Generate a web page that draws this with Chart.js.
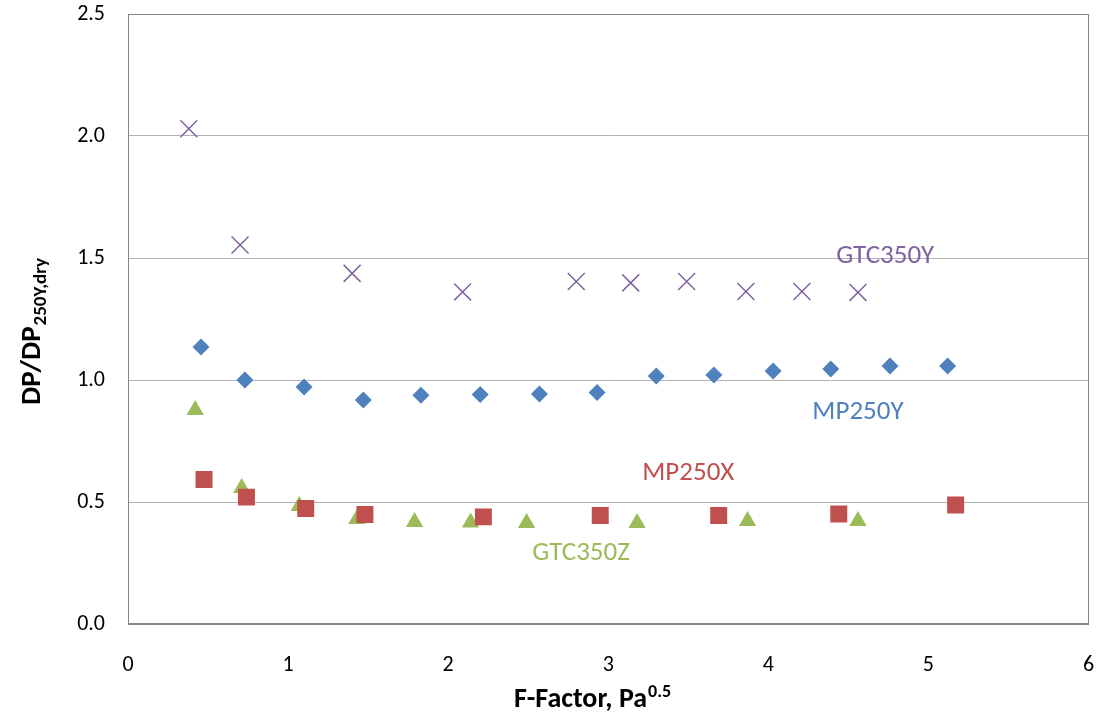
<!DOCTYPE html>
<html>
<head>
<meta charset="utf-8">
<script src="https://cdn.jsdelivr.net/npm/chart.js@4.4.0/dist/chart.umd.min.js"></script>
<style>
    html, body { margin: 0; padding: 0; background: #ffffff; }
    #wrap { width: 1102px; height: 719px; position: relative; }
</style>
</head>
<body>
<div id="wrap"><canvas id="chart"></canvas></div>
<script>
// Données
const gtc350yX = [0.38, 0.70, 1.40, 2.09, 2.80, 3.14, 3.49, 3.86, 4.21, 4.56];
const gtc350yY = [2.03, 1.553, 1.437, 1.361, 1.404, 1.398, 1.404, 1.363, 1.363, 1.359];

const mp250yX = [0.456, 0.73, 1.10, 1.47, 1.83, 2.20, 2.57, 2.93, 3.30, 3.66, 4.03, 4.39, 4.76, 5.12];
const mp250yY = [1.135, 1.0, 0.971, 0.918, 0.937, 0.941, 0.943, 0.949, 1.016, 1.020, 1.037, 1.045, 1.057, 1.057];

const mp250xX = [0.475, 0.74, 1.11, 1.48, 2.22, 2.95, 3.69, 4.44, 5.17];
const mp250xY = [0.592, 0.520, 0.473, 0.449, 0.439, 0.445, 0.445, 0.451, 0.488];

const gtc350zX = [0.42, 0.71, 1.07, 1.43, 1.79, 2.14, 2.49, 3.18, 3.87, 4.56];
const gtc350zY = [0.877, 0.557, 0.484, 0.430, 0.418, 0.416, 0.414, 0.414, 0.422, 0.422];

const xTicks = [0, 1, 2, 3, 4, 5, 6];
const yTicks = [0.0, 0.5, 1.0, 1.5, 2.0, 2.5];

const FONT = "Carlito, Calibri, Lato, sans-serif";

function toPoints(xs, ys) {
    return xs.map((x, i) => ({ x: x, y: ys[i] }));
}

// Étiquettes des séries, placées dans l'espace des données
const seriesLabels = [
    { text: 'GTC350Y', x: 4.73, y: 1.508, color: '#8064A2' },
    { text: 'MP250Y', x: 4.56, y: 0.869, color: '#4F81BD' },
    { text: 'MP250X', x: 3.50, y: 0.619, color: '#C0504D' },
    { text: 'GTC350Z', x: 2.83, y: 0.291, color: '#9BBB59' }
];

const labelsPlugin = {
    id: 'seriesLabels',
    afterDatasetsDraw(chart) {
        const ctx = chart.ctx;
        const xs = chart.scales.x;
        const ys = chart.scales.y;
        ctx.save();
        ctx.font = '27px ' + FONT;
        ctx.textAlign = 'center';
        ctx.textBaseline = 'middle';
        seriesLabels.forEach(l => {
            ctx.fillStyle = l.color;
            ctx.fillText(l.text, xs.getPixelForValue(l.x), ys.getPixelForValue(l.y));
        });
        ctx.restore();
    }
};

// Titres des axes avec indice / exposant
const axisTitlesPlugin = {
    id: 'axisTitles',
    afterDraw(chart) {
        const ctx = chart.ctx;
        const area = chart.chartArea;
        ctx.save();
        ctx.fillStyle = '#000000';
        ctx.textBaseline = 'alphabetic';

        // Titre X
        const main = 'F-Factor, Pa';
        const sup = '0.5';
        ctx.font = 'bold 28px ' + FONT;
        const wMain = ctx.measureText(main).width;
        ctx.font = 'bold 18px ' + FONT;
        const wSup = ctx.measureText(sup).width;
        const x0 = 592 - (wMain + wSup) / 2;
        ctx.font = 'bold 28px ' + FONT;
        ctx.textAlign = 'left';
        ctx.fillText(main, x0, 707);
        ctx.font = 'bold 18px ' + FONT;
        ctx.fillText(sup, x0 + wMain + 1, 697);

        // Titre Y (pivoté)
        const yMain = 'DP/DP';
        const ySub = '250Y,dry';
        ctx.translate(40, 332);
        ctx.rotate(-Math.PI / 2);
        ctx.font = 'bold 29px ' + FONT;
        const wy1 = ctx.measureText(yMain).width;
        ctx.font = 'bold 19px ' + FONT;
        const wy2 = ctx.measureText(ySub).width;
        const start = -(wy1 + wy2) / 2;
        ctx.font = 'bold 29px ' + FONT;
        ctx.fillText(yMain, start, 0);
        ctx.font = 'bold 19px ' + FONT;
        ctx.fillText(ySub, start + wy1 + 1, 6);
        ctx.restore();
    }
};

const config = {
    type: 'scatter',
    data: {
        datasets: [
            {
                label: 'GTC350Y',
                data: toPoints(gtc350yX, gtc350yY),
                pointStyle: 'crossRot',
                pointRadius: 12,
                borderColor: '#8064A2',
                borderWidth: 1.5,
                backgroundColor: '#8064A2'
            },
            {
                label: 'MP250Y',
                data: toPoints(mp250yX, mp250yY),
                pointStyle: 'rectRot',
                pointRadius: 8.5,
                borderWidth: 0,
                backgroundColor: '#4F81BD'
            },
            {
                label: 'MP250X',
                data: toPoints(mp250xX, mp250xY),
                pointStyle: 'rect',
                pointRadius: 12,
                borderWidth: 0,
                backgroundColor: '#C0504D'
            },
            {
                label: 'GTC350Z',
                data: toPoints(gtc350zX, gtc350zY),
                pointStyle: 'triangle',
                pointRadius: 10,
                borderWidth: 0,
                backgroundColor: '#9BBB59'
            }
        ]
    },
    options: {
        responsive: true,
        maintainAspectRatio: false,
        animation: false,
        layout: {
            padding: { left: 0, top: 14, right: 13, bottom: 0 }
        },
        plugins: {
            legend: { display: false },
            tooltip: { enabled: false }
        },
        scales: {
            x: {
                type: 'linear',
                min: 0,
                max: 6,
                afterBuildTicks(scale) {
                    scale.ticks = xTicks.map(v => ({ value: v }));
                },
                afterFit(scale) {
                    scale.height = 95;
                    scale.paddingLeft = 0;
                    scale.paddingRight = 0;
                },
                grid: { display: false, drawTicks: false },
                border: { display: true, color: '#868686', width: 1 },
                ticks: {
                    padding: 28,
                    color: '#000000',
                    font: { family: FONT, size: 22 },
                    maxRotation: 0,
                    callback: v => String(v)
                }
            },
            y: {
                type: 'linear',
                min: 0,
                max: 2.5,
                afterBuildTicks(scale) {
                    scale.ticks = yTicks.map(v => ({ value: v }));
                },
                afterFit(scale) {
                    scale.width = 128;
                    scale.paddingTop = 0;
                    scale.paddingBottom = 0;
                },
                grid: { color: '#B3B3B3', lineWidth: 1, drawTicks: false },
                border: { display: true, color: '#868686', width: 1 },
                ticks: {
                    padding: 23,
                    color: '#000000',
                    font: { family: FONT, size: 22 },
                    callback: v => Number(v).toFixed(1)
                }
            }
        }
    },
    plugins: [
        labelsPlugin,
        axisTitlesPlugin,
        {
            // Cadre de la zone de tracé
            id: 'plotFrame',
            afterDatasetsDraw(chart) {
                const a = chart.chartArea;
                const ctx = chart.ctx;
                ctx.save();
                ctx.strokeStyle = '#868686';
                ctx.lineWidth = 1;
                ctx.strokeRect(Math.round(a.left) + 0.5, Math.round(a.top) + 0.5,
                    Math.round(a.right - a.left) - 1, Math.round(a.bottom - a.top) - 1);
                ctx.restore();
            }
        }
    ]
};

new Chart(document.getElementById('chart'), config);
</script>
</body>
</html>
